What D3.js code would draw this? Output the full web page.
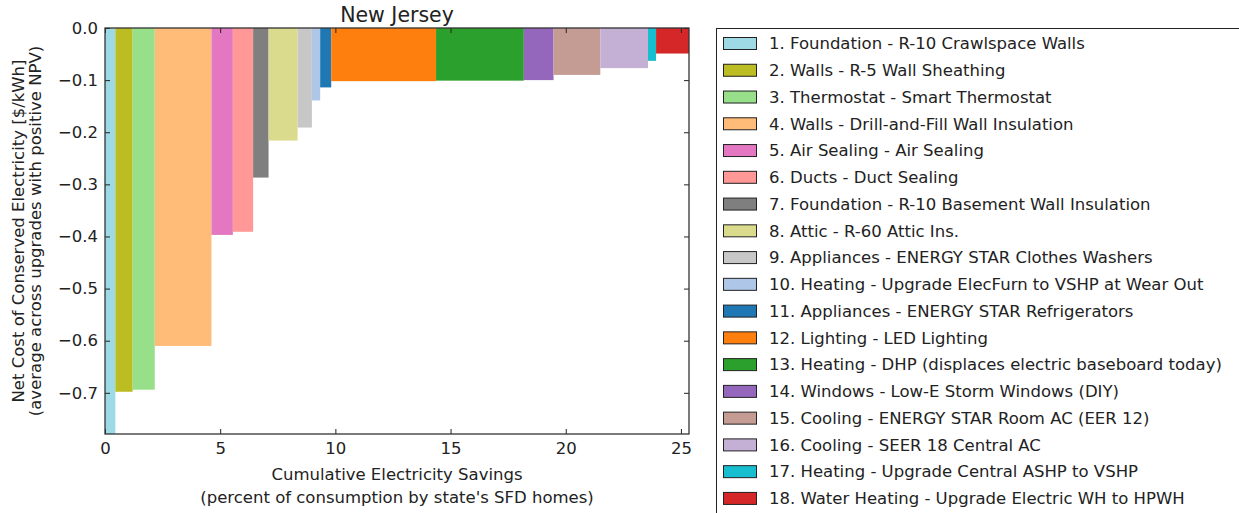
<!DOCTYPE html>
<html>
<head>
<meta charset="utf-8">
<script src="https://cdn.jsdelivr.net/npm/d3@7"></script>
<style>
  body { margin: 0; background: #fff; }
  text { font-family: "DejaVu Sans", sans-serif; fill: #222; }
</style>
</head>
<body>
<div id="chart"></div>
<script>
// donnees
const upgrades = [
  "1. Foundation - R-10 Crawlspace Walls",
  "2. Walls - R-5 Wall Sheathing",
  "3. Thermostat - Smart Thermostat",
  "4. Walls - Drill-and-Fill Wall Insulation",
  "5. Air Sealing - Air Sealing",
  "6. Ducts - Duct Sealing",
  "7. Foundation - R-10 Basement Wall Insulation",
  "8. Attic - R-60 Attic Ins.",
  "9. Appliances - ENERGY STAR Clothes Washers",
  "10. Heating - Upgrade ElecFurn to VSHP at Wear Out",
  "11. Appliances - ENERGY STAR Refrigerators",
  "12. Lighting - LED Lighting",
  "13. Heating - DHP (displaces electric baseboard today)",
  "14. Windows - Low-E Storm Windows (DIY)",
  "15. Cooling - ENERGY STAR Room AC (EER 12)",
  "16. Cooling - SEER 18 Central AC",
  "17. Heating - Upgrade Central ASHP to VSHP",
  "18. Water Heating - Upgrade Electric WH to HPWH"
];
// economies de chaque mesure (% de consommation)
const savings = [0.45, 0.75, 0.96, 2.46, 0.93, 0.88, 0.67, 1.26, 0.62, 0.36,
  0.48, 4.55, 3.81, 1.29, 2.03, 2.07, 0.35, 1.43];
// cout net ($/kWh)
const costs = [-0.779, -0.698, -0.694, -0.610, -0.397, -0.391, -0.287, -0.216,
  -0.191, -0.139, -0.114, -0.102, -0.101, -0.100, -0.090, -0.077, -0.063, -0.049];
const xTicks = [0, 5, 10, 15, 20, 25];
const yTicks = [0, -0.1, -0.2, -0.3, -0.4, -0.5, -0.6, -0.7];

const myColors = ["#9edae5", "#bcbd22", "#98df8a", "#ffbb78", "#e377c2", "#ff9896",
  "#7f7f7f", "#dbdb8d", "#c7c7c7", "#aec7e8", "#1f77b4", "#ff7f0e", "#2ca02c",
  "#9467bd", "#c49c94", "#c5b0d5", "#17becf", "#d62728"];
const color = d3.scaleOrdinal().domain(upgrades).range(myColors);

const width = 1239,
  height = 513;
const plot = { left: 105, top: 28, right: 689, bottom: 434 };
const fontSize = "16.5px";

// positions cumulees
let acc = 0;
const bars = upgrades.map((name, i) => {
  const b = { name: name, x0: acc, x1: acc + savings[i], cost: costs[i] };
  acc += savings[i];
  return b;
});

const x = d3.scaleLinear().domain([0, acc]).range([plot.left, plot.right]);
const y = d3.scaleLinear().domain([d3.min(costs), 0]).range([plot.bottom, plot.top]);

const svg = d3
  .select("#chart")
  .append("svg")
  .attr("width", width)
  .attr("height", height);

// les barres
svg
  .selectAll("rect.bar")
  .data(bars)
  .enter()
  .append("rect")
  .attr("class", "bar")
  .attr("x", (d) => x(d.x0))
  .attr("y", y(0))
  .attr("width", (d) => x(d.x1) - x(d.x0))
  .attr("height", (d) => y(d.cost) - y(0))
  .attr("fill", (d) => color(d.name));

// axes (ticks vers l'interieur)
const fmtY = d3.format(".1f");
svg
  .append("g")
  .attr("transform", "translate(" + plot.left + ",0)")
  .call(d3.axisLeft(y).tickValues(yTicks).tickFormat(fmtY).tickSize(-5).tickPadding(7));
svg
  .append("g")
  .attr("transform", "translate(" + plot.right + ",0)")
  .call(d3.axisRight(y).tickValues(yTicks).tickFormat("").tickSize(-5));
svg
  .append("g")
  .attr("transform", "translate(0," + plot.bottom + ")")
  .call(d3.axisBottom(x).tickValues(xTicks).tickFormat(d3.format("d")).tickSize(-5).tickPadding(8));
svg
  .append("g")
  .attr("transform", "translate(0," + plot.top + ")")
  .call(d3.axisTop(x).tickValues(xTicks).tickFormat("").tickSize(-5));

svg.selectAll(".domain").remove();
svg.selectAll(".tick line").attr("stroke", "#222");
svg.selectAll(".tick text").style("font-size", fontSize).attr("fill", "#222");

// cadre
svg
  .append("rect")
  .attr("x", plot.left)
  .attr("y", plot.top)
  .attr("width", plot.right - plot.left)
  .attr("height", plot.bottom - plot.top)
  .attr("fill", "none")
  .attr("stroke", "#333")
  .attr("stroke-width", 1.3);

// titre
svg
  .append("text")
  .attr("x", (plot.left + plot.right) / 2)
  .attr("y", 22)
  .attr("text-anchor", "middle")
  .style("font-size", "20.5px")
  .text("New Jersey");

// titres des axes
const xLab = svg
  .append("text")
  .attr("text-anchor", "middle")
  .style("font-size", fontSize);
xLab.append("tspan").attr("x", (plot.left + plot.right) / 2).attr("y", 480).text("Cumulative Electricity Savings");
xLab.append("tspan").attr("x", (plot.left + plot.right) / 2).attr("y", 503).text("(percent of consumption by state's SFD homes)");

const yMid = (plot.top + plot.bottom) / 2;
const yLab = svg
  .append("text")
  .attr("text-anchor", "middle")
  .attr("transform", "translate(24," + yMid + ") rotate(-90)")
  .style("font-size", fontSize);
yLab.append("tspan").attr("x", 0).attr("y", 0).text("Net Cost of Conserved Electricity [$/kWh]");
yLab.append("tspan").attr("x", 0).attr("y", 17).text("(average across upgrades with positive NPV)");

// ----------------- LEGENDE ----------------- //
svg
  .append("rect")
  .attr("x", 716.5)
  .attr("y", 28.5)
  .attr("width", 560)
  .attr("height", 520)
  .attr("fill", "#fff")
  .attr("stroke", "#222")
  .attr("stroke-width", 1);

const legend = svg
  .selectAll(".legend")
  .data(upgrades)
  .enter()
  .append("g")
  .attr("class", "legend")
  .attr("transform", (d, i) => "translate(0," + (43.5 + i * 26.76) + ")");

legend
  .append("rect")
  .attr("x", 723.5)
  .attr("y", -6)
  .attr("width", 33)
  .attr("height", 12)
  .attr("fill", (d) => color(d))
  .attr("stroke", "#222")
  .attr("stroke-width", 1);

legend
  .append("text")
  .attr("x", 769)
  .attr("y", 0)
  .attr("dy", ".35em")
  .style("font-size", fontSize)
  .text((d) => d);
</script>
</body>
</html>
